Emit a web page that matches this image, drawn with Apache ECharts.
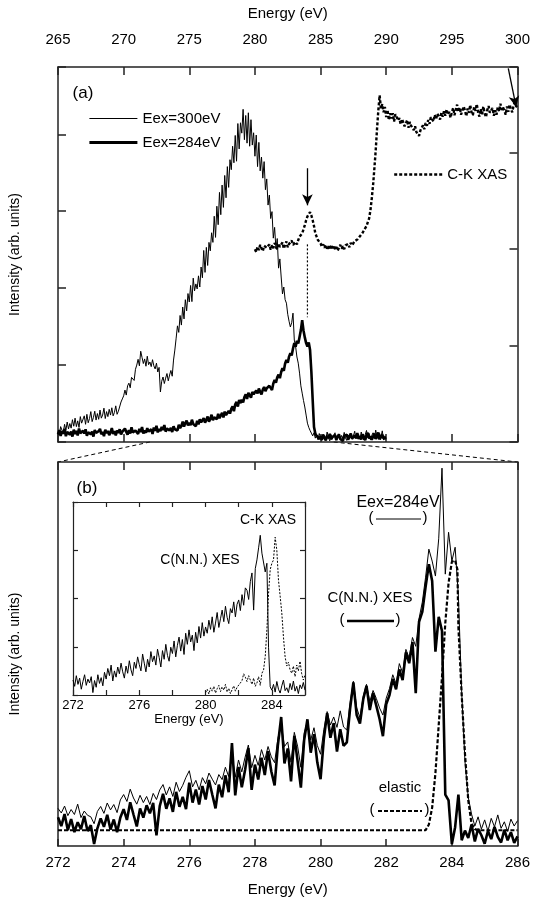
<!DOCTYPE html>
<html><head><meta charset="utf-8">
<script src="https://cdn.jsdelivr.net/npm/echarts@6/dist/echarts.min.js"></script>
<style>html,body{margin:0;padding:0;background:#fff}#c{width:533px;height:898px}</style>
</head><body><div id="c"></div>
<script>
const FONT = 'Liberation Sans, Arial, Helvetica, sans-serif';

// ---------- Panel (a): energy grid 265.0 .. 290.0, step 0.1 ----------
const aStart = 265, aStep = 0.1;
const xes300 = [
2.6,1.8,4.0,3.1,2.4,4.6,3.0,5.2,3.4,4.8,
3.6,5.8,4.1,6.2,4.0,5.5,3.8,6.6,4.9,5.1,
6.8,4.6,7.2,5.0,6.1,7.9,5.3,6.4,8.0,5.7,
7.4,5.9,8.3,6.2,7.0,8.8,6.1,7.9,6.6,8.5,
7.0,8.9,6.8,7.7,9.4,7.2,8.0,7.5,10.4,11.2,
12.0,13.5,12.2,14.6,15.3,14.1,16.8,17.2,16.0,18.9,
20.0,21.5,19.8,23.6,22.0,20.4,21.6,19.7,22.3,20.1,
20.8,19.6,21.4,19.8,19.0,20.5,18.2,19.4,13.0,15.8,
16.9,15.2,16.6,17.8,15.9,17.4,18.6,17.1,21.3,23.9,
27.0,30.2,28.5,32.9,30.4,35.1,32.0,37.0,34.1,38.6,
36.4,40.7,36.5,42.6,39.3,41.1,39.8,43.2,40.3,45.5,
42.7,49.8,44.1,50.6,45.9,51.9,49.7,54.4,51.9,58.7,
53.2,61.3,56.5,64.9,59.1,66.8,61.0,69.3,63.5,71.6,
66.2,73.4,70.8,76.9,72.6,79.7,73.0,82.8,76.2,83.0,
80.3,86.5,78.6,84.9,77.7,85.6,76.9,83.8,77.2,80.4,
74.3,79.8,71.6,77.9,70.5,74.1,68.6,72.9,65.6,68.4,
61.6,64.2,58.1,59.9,53.0,55.8,50.3,52.9,45.2,47.6,
42.9,38.5,40.3,37.0,36.1,33.2,31.4,29.9,31.0,33.5,
26.5,24.8,22.1,20.5,17.9,14.6,12.7,10.8,9.1,7.0,
4.9,3.8,3.0,2.3,1.6,2.4,1.0,1.8,0.6,2.2,
1.2,0.4,2.0,1.5,0.7,2.6,1.1,0.3,1.9,0.8,
1.6,2.4,0.5,1.3,2.1,0.6,1.7,0.9,2.5,1.0,
0.4,1.8,1.2,2.3,0.7,1.5,2.8,0.9,1.4,2.0,
0.8,2.6,1.3,0.5,1.9,3.0,1.1,2.2,0.6,1.7,
2.4,0.9,3.1,1.4,0.7,2.2,1.3,2.9,0.5,1.6,
0.9];
const xes284 = [
2.0,3.1,1.6,2.8,2.2,3.4,1.5,2.6,3.0,1.9,
2.7,1.4,3.2,2.1,2.9,1.7,3.5,2.3,1.8,2.9,
2.2,3.3,1.6,2.5,3.0,2.0,2.7,1.4,3.1,2.4,
1.9,2.8,3.4,2.0,2.6,1.5,3.2,2.3,2.9,1.8,
2.5,3.6,2.1,2.8,1.7,3.0,2.4,3.3,2.0,2.7,
2.3,3.5,2.6,1.9,3.1,2.2,3.8,2.5,2.0,3.0,
2.8,2.1,3.4,2.6,3.9,2.2,3.0,2.4,3.6,2.7,
2.6,3.3,2.1,3.8,2.9,4.2,2.5,3.4,2.8,3.9,
3.1,4.4,2.7,3.5,4.0,3.0,3.7,2.6,4.1,3.3,
3.8,3.0,4.5,3.6,4.2,5.3,4.0,4.9,5.6,4.3,
5.0,4.4,5.8,4.7,5.2,4.1,5.5,4.6,5.9,5.1,
5.4,6.2,5.0,5.8,6.6,5.3,6.0,7.1,5.7,6.4,
6.5,5.9,7.3,6.2,6.9,7.6,6.4,7.9,7.0,7.5,
8.1,7.4,8.6,9.3,8.0,9.8,10.4,9.2,10.9,10.1,
11.0,10.3,11.7,12.4,11.2,12.8,12.2,11.5,13.0,12.4,
12.1,13.4,12.6,13.9,13.0,12.4,13.6,14.3,13.2,14.0,
13.8,14.6,14.3,13.5,15.2,16.1,15.4,16.8,17.5,16.6,
18.2,19.2,18.5,20.4,21.3,20.6,22.2,23.1,22.5,24.3,
25.7,24.8,26.3,25.6,27.3,29.1,31.7,29.0,27.2,25.7,
24.8,25.9,23.9,18.2,10.9,3.9,2.2,1.6,1.3,0.8,
1.5,0.6,1.9,1.1,0.4,1.7,1.0,2.1,0.7,1.3,
0.9,1.8,0.5,1.4,2.0,0.8,1.2,0.3,1.6,1.1,
1.9,0.6,1.3,2.2,0.9,0.4,1.7,1.0,2.3,0.8,
1.4,0.7,2.0,1.2,0.5,1.8,2.4,0.9,1.5,0.6,
1.1,2.2,0.8,1.6,2.5,0.7,1.3,1.9,0.9,1.4,
1.0];
// C-K XAS, 280.0 .. 300.0 step 0.1 (right axis)
const xasStart = 280, xasStep = 0.1;
const xasA = [
40.0,39.4,40.5,39.8,40.9,40.2,39.6,40.7,41.1,40.3,
40.4,41.0,39.9,40.8,40.2,41.3,40.6,40.0,41.2,40.5,
40.6,41.4,40.1,40.9,41.6,40.4,41.1,40.7,41.8,40.9,
40.8,41.5,41.0,41.9,42.6,42.2,43.3,44.1,45.0,46.0,
46.8,47.2,47.7,47.0,46.0,44.8,43.3,42.6,41.9,41.5,
41.2,40.5,41.0,40.3,40.9,40.1,40.6,39.9,40.7,40.2,
40.8,40.0,40.5,39.7,40.3,40.9,40.1,40.6,40.0,40.8,
40.6,41.1,40.4,41.3,40.8,41.2,41.7,41.4,42.0,42.3,
42.7,43.1,43.4,43.9,44.3,44.8,45.6,46.4,48.1,50.5,
53.3,56.8,60.5,64.9,68.8,71.9,69.2,70.1,68.4,69.5,
67.4,68.9,66.8,68.2,67.1,68.2,66.5,68.0,67.4,66.7,
67.2,65.9,67.0,66.3,65.5,66.1,66.8,65.2,66.4,65.6,
65.3,64.7,65.5,64.3,64.0,63.5,64.6,65.2,65.7,64.9,
66.2,65.6,66.8,66.0,67.4,67.2,66.5,67.9,67.0,68.1,
67.8,66.9,68.3,67.5,68.6,67.7,69.0,67.9,68.5,67.3,
68.4,69.3,67.8,68.9,70.0,68.5,69.4,67.9,68.8,69.6,
68.8,67.6,69.2,68.3,69.9,68.4,67.8,69.5,68.7,70.1,
68.4,67.5,69.1,68.0,69.6,68.2,67.4,68.9,69.7,68.3,
68.2,69.3,67.7,68.8,67.9,69.5,68.6,70.2,68.9,69.4,
68.8,67.9,69.6,68.5,70.0,69.1,68.4,69.8,70.5,69.7,
69.4];
// annotations of panel (a): arrows [x1, y1, x2, y2] on XAS axis; guide line at 284 eV
const arrowsA = [[284, 56.8, 284, 49.1], [299.3, 77.5, 299.9, 69.5]];
const guideA = [[284, 41.0], [284, 25.9]];

// ---------- Panel (b): 272.0 .. 286.0, step 0.1 ----------
const bStart = 272, bStep = 0.1;
const bThin = [
9.8,8.6,10.4,7.9,9.5,8.2,10.9,7.4,9.1,8.0,
7.6,5.8,9.0,10.3,8.5,11.2,9.4,10.8,8.7,12.0,
13.4,11.6,14.8,12.5,10.9,13.2,11.3,12.9,10.8,13.7,
12.1,14.6,16.0,13.3,15.4,12.9,16.6,14.2,15.8,17.9,
19.6,15.4,17.1,14.6,17.8,16.2,19.0,17.4,15.9,18.6,
17.3,20.5,18.1,24.2,17.9,22.4,19.3,23.1,26.3,20.4,
23.6,21.0,25.1,22.4,25.9,23.2,21.7,28.0,31.8,25.9,
27.1,21.8,29.6,26.0,20.5,29.4,32.5,27.6,30.8,26.2,
23.9,30.3,35.0,31.5,33.6,30.9,35.2,31.0,30.2,37.3,
42.9,36.0,33.4,39.0,42.1,37.6,40.5,38.4,35.9,34.1,
38.5,41.0,44.6,42.3,47.5,45.1,51.2,49.0,54.3,52.0,
59.2,63.5,70.0,77.3,74.2,70.3,80.0,98.4,70.8,81.7,
74.2,77.8,65.0,40.0,22.0,12.7,8.3,5.2,7.6,4.4,
6.8,3.9,7.2,5.0,8.1,4.6,6.3,3.8,7.0,5.2,
6.6];
const bThick = [
7.5,5.2,8.3,4.1,7.0,3.6,6.2,4.4,7.8,3.9,
5.4,0.5,4.6,7.2,5.0,8.1,4.3,6.9,3.6,7.4,
9.6,6.8,11.4,8.2,5.1,9.8,7.4,10.6,8.5,11.2,
2.8,10.4,13.6,9.7,12.4,8.9,14.1,10.2,12.8,9.6,
16.5,11.3,14.7,10.8,15.6,12.1,17.2,13.4,9.8,16.0,
12.7,18.4,14.0,26.8,13.2,20.6,15.3,19.8,25.5,14.6,
21.2,17.3,23.0,18.5,24.7,19.4,15.8,26.3,33.6,21.5,
25.4,16.8,28.7,22.1,15.2,27.6,33.0,24.3,29.1,21.8,
17.4,27.9,34.6,28.2,32.0,24.6,30.4,26.1,27.0,35.8,
42.6,34.1,31.9,38.2,41.7,35.4,39.8,36.5,33.0,28.6,
36.9,39.3,43.5,40.8,46.0,43.2,50.4,47.6,53.1,39.8,
58.4,61.0,67.5,73.4,69.0,50.6,59.7,56.0,13.4,11.9,
0.5,4.9,13.4,1.5,4.0,2.1,5.6,1.2,4.5,2.8,
0.6,3.9,1.8,5.0,2.4,0.9,4.2,1.5,3.6,0.8,
2.5];
const elastic = [[272,4.1],[283.2,4.1],[283.3,5.6],[283.4,10.0],[283.5,19.0],[283.6,31.5],
[283.7,44.0],[283.8,58.0],[283.9,68.5],[284.0,74.0],[284.1,74.4],[284.17,72.0],[284.2,57.0],
[284.3,39.3],[284.4,24.0],[284.5,11.9],[284.6,5.8],[284.7,4.4],[284.8,4.1],[286,4.1]];

// ---------- Inset ----------
const insStart = 272, insStep = 0.1;
const insXES = [
0.31,0.18,0.40,0.22,0.35,0.12,0.28,0.42,0.20,0.33,
0.25,0.38,0.05,0.30,0.16,0.42,0.24,0.36,0.19,0.47,
0.33,0.55,0.40,0.62,0.29,0.50,0.37,0.58,0.44,0.66,
0.48,0.35,0.60,0.45,0.71,0.52,0.40,0.68,0.55,0.79,
0.63,0.50,0.85,0.66,0.48,0.74,0.58,0.90,0.69,0.81,
0.62,0.95,0.78,0.58,0.92,0.74,1.05,0.82,0.70,0.99,
0.86,1.12,0.79,1.03,1.20,0.91,1.15,0.84,1.28,1.05,
1.35,1.10,1.24,0.92,1.30,1.08,1.42,1.18,1.50,1.22,
1.41,1.28,1.55,1.36,1.62,1.30,1.49,1.71,1.40,1.58,
1.76,1.52,1.84,1.61,1.48,1.79,1.70,1.93,1.62,1.88,
1.97,1.75,2.08,1.86,2.22,2.17,1.98,2.35,2.53,1.76,
2.62,2.80,3.05,3.31,2.94,2.94,2.55,2.73,0.99,0.17,
0.10,0.22,0.06,0.28,0.12,0.04,0.19,0.31,0.09,0.15,
0.05,0.24,0.11,0.29,0.08,0.18,0.03,0.21,0.13,0.26,
0.10];
const insXasStart = 280;
const insXAS = [
0.05,0.12,0.02,0.15,0.08,0.18,0.04,0.13,0.20,0.07,
0.17,0.10,0.22,0.06,0.14,0.03,0.11,0.19,0.08,0.16,
0.12,0.25,0.30,0.44,0.37,0.28,0.40,0.31,0.22,0.35,
0.18,0.25,0.38,0.20,0.45,0.52,0.80,1.35,2.10,2.60,
2.73,2.80,3.27,3.00,2.38,2.05,1.70,1.20,0.79,0.60,
0.68,0.52,0.45,0.60,0.38,0.62,0.50,0.70,0.44,0.31,
0.42];

const pairs = (start, step, arr) => arr.map((v, i) => [Math.round((start + i * step) * 100) / 100, v]);

const AX = {color: '#222', width: 1.5};
function xAx(grid, pos, min, max, interval, o) {
  return Object.assign({
    type: 'value', gridIndex: grid, position: pos, min: min, max: max, interval: interval,
    axisLine: {show: true, onZero: false, lineStyle: AX},
    axisTick: {show: true, inside: true, length: 8, lineStyle: AX},
    axisLabel: {show: false}, splitLine: {show: false}
  }, o || {});
}
function yAx(grid, pos, min, max, interval, o) {
  return Object.assign({
    type: 'value', gridIndex: grid, position: pos, min: min, max: max, interval: interval,
    axisLine: {show: true, onZero: false, lineStyle: AX},
    axisTick: {show: true, inside: true, length: 8, lineStyle: AX},
    axisLabel: {show: false}, splitLine: {show: false}
  }, o || {});
}
const lbl = (size, margin) => ({show: true, color: '#000', fontSize: size, fontFamily: FONT, margin: margin});

const chart = echarts.init(document.getElementById('c'), null, {renderer: 'canvas'});
const legendCommon = {orient: 'vertical', itemWidth: 48, itemHeight: 14, itemGap: 9, selectedMode: false,
  itemStyle: {opacity: 0, borderWidth: 0}, textStyle: {fontSize: 15, color: '#000', fontFamily: FONT}};
const option = {
  animation: false,
  backgroundColor: '#fff',
  textStyle: {fontFamily: FONT, color: '#000'},
  grid: [
    {left: 57.5, right: 15, top: 67, bottom: 456},
    {left: 57.5, right: 15, top: 462, bottom: 50},
    {left: 73, top: 502, width: 232, height: 193}
  ],
  xAxis: [
    xAx(0, 'top', 265, 300, 5, {axisLabel: lbl(15, 20), name: 'Energy (eV)', nameLocation: 'middle', nameGap: 46,
      nameTextStyle: {fontSize: 15, color: '#000', fontFamily: FONT}}),
    xAx(0, 'bottom', 265, 300, 5),
    xAx(1, 'bottom', 272, 286, 2, {axisTick: {show: true, inside: true, length: 7, lineStyle: AX},
      axisLabel: lbl(15, 9), name: 'Energy (eV)', nameLocation: 'middle', nameGap: 36,
      nameTextStyle: {fontSize: 15, color: '#000', fontFamily: FONT}}),
    xAx(1, 'top', 272, 286, 2),
    xAx(2, 'bottom', 272, 286, 2, {axisLine: {show: true, onZero: false, lineStyle: {color: '#222', width: 1.2}},
      axisTick: {show: true, inside: true, length: 5, lineStyle: {color: '#222', width: 1.2}},
      axisLabel: Object.assign(lbl(13, 4), {formatter: v => ((v - 272) % 4 === 0 ? String(v) : '')}),
      name: 'Energy (eV)', nameLocation: 'middle', nameGap: 15,
      nameTextStyle: {fontSize: 13, color: '#000', fontFamily: FONT}}),
    xAx(2, 'top', 272, 286, 2, {axisLine: {show: true, onZero: false, lineStyle: {color: '#222', width: 1.2}},
      axisTick: {show: true, inside: true, length: 5, lineStyle: {color: '#222', width: 1.2}}})
  ],
  yAxis: [
    yAx(0, 'left', 0, 97.5, 20, {name: 'Intensity (arb. units)', nameLocation: 'middle', nameGap: 36,
      nameTextStyle: {fontSize: 14, color: '#000', fontFamily: FONT}}),
    yAx(0, 'right', 0, 77.8, 20),
    yAx(1, 'left', 0, 100, 20, {axisTick: {show: false}, name: 'Intensity (arb. units)', nameLocation: 'middle', nameGap: 36,
      nameTextStyle: {fontSize: 14, color: '#000', fontFamily: FONT}}),
    yAx(1, 'right', 0, 100, 20, {axisTick: {show: false}}),
    yAx(2, 'left', 0, 4, 1, {axisLine: {show: true, onZero: false, lineStyle: {color: '#222', width: 1.2}},
      axisTick: {show: true, inside: true, length: 5, lineStyle: {color: '#222', width: 1.2}}}),
    yAx(2, 'right', 0, 4, 1, {axisLine: {show: true, onZero: false, lineStyle: {color: '#222', width: 1.2}},
      axisTick: {show: true, inside: true, length: 5, lineStyle: {color: '#222', width: 1.2}}})
  ],
  legend: [
    Object.assign({left: 83, top: 106, data: [
      {name: 'Eex=300eV', lineStyle: {width: 1, color: '#000'}},
      {name: 'Eex=284eV', lineStyle: {width: 2.8, color: '#000'}}]}, legendCommon),
    Object.assign({left: 388, top: 162, data: [
      {name: 'C-K XAS', lineStyle: {width: 2.4, color: '#000', type: [3, 2]}}]}, legendCommon)
  ],
  series: [
    {name: 'Eex=300eV', type: 'line', xAxisIndex: 0, yAxisIndex: 0, symbol: 'none', data: pairs(aStart, aStep, xes300),
      lineStyle: {color: '#000', width: 1}, itemStyle: {color: '#000'}},
    {name: 'Eex=284eV', type: 'line', xAxisIndex: 0, yAxisIndex: 0, symbol: 'none', data: pairs(aStart, aStep, xes284),
      lineStyle: {color: '#000', width: 2.6}, itemStyle: {color: '#000'}},
    {name: 'C-K XAS', type: 'line', xAxisIndex: 0, yAxisIndex: 1, symbol: 'none', data: pairs(xasStart, xasStep, xasA),
      lineStyle: {color: '#000', width: 2.4, type: [3, 2]}, itemStyle: {color: '#000'},
      markLine: {silent: true, symbol: ['none', 'arrow'], symbolSize: [8, 11], label: {show: false},
        lineStyle: {color: '#000', width: 1.3, type: 'solid'},
        data: arrowsA.map(a => [{coord: [a[0], a[1]]}, {coord: [a[2], a[3]]}])}},
    {name: 'guide', type: 'line', xAxisIndex: 0, yAxisIndex: 1, symbol: 'none', data: guideA,
      lineStyle: {color: '#000', width: 1.2, type: [2, 2]}},
    {name: 'b-thin', type: 'line', xAxisIndex: 2, yAxisIndex: 2, symbol: 'none', data: pairs(bStart, bStep, bThin),
      lineStyle: {color: '#000', width: 1}},
    {name: 'b-thick', type: 'line', xAxisIndex: 2, yAxisIndex: 2, symbol: 'none', data: pairs(bStart, bStep, bThick),
      lineStyle: {color: '#000', width: 2.6}},
    {name: 'elastic', type: 'line', xAxisIndex: 2, yAxisIndex: 2, symbol: 'none', data: elastic,
      lineStyle: {color: '#000', width: 2.2, type: [4, 2]}},
    {name: 'inset-XES', type: 'line', xAxisIndex: 4, yAxisIndex: 4, symbol: 'none', data: pairs(insStart, insStep, insXES),
      lineStyle: {color: '#000', width: 1}},
    {name: 'inset-XAS', type: 'line', xAxisIndex: 4, yAxisIndex: 4, symbol: 'none', data: pairs(insXasStart, insStep, insXAS),
      lineStyle: {color: '#000', width: 1, type: [2, 1.5]}}
  ]
};
chart.setOption(option);

// connector lines and annotations
const a1 = chart.convertToPixel({gridIndex: 0}, [272, 0]);
const a2 = chart.convertToPixel({gridIndex: 0}, [286, 0]);
const b1 = chart.convertToPixel({gridIndex: 1}, [272, 100]);
const b2 = chart.convertToPixel({gridIndex: 1}, [286, 100]);
const T = (text, x, y, size) => ({type: 'text', x: x, y: y, style: {text: text, fill: '#000', fontSize: size, fontFamily: FONT, align: 'center', verticalAlign: 'middle'}});
const L = (x1, y1, x2, y2, w, dash) => ({type: 'line', shape: {x1: x1, y1: y1, x2: x2, y2: y2}, style: {stroke: '#000', lineWidth: w, lineDash: dash || null}});
chart.setOption({
  graphic: [
    L(a1[0], a1[1], b1[0], b1[1], 1, [4, 3]),
    L(a2[0], a2[1], b2[0], b2[1], 1, [4, 3]),
    T('(a)', 83, 93, 17),
    T('(b)', 87, 488, 17),
    T('Eex=284eV', 398, 503, 16),
    T('(', 371, 518, 15), L(376, 519, 421, 519, 1), T(')', 425, 518, 15),
    T('C(N.N.) XES', 370, 598, 15),
    T('(', 342, 620, 15), L(347, 621, 394, 621, 2.6), T(')', 398, 620, 15),
    T('elastic', 400, 788, 15),
    T('(', 372, 810, 15), L(378, 811, 422, 811, 2.2, [4, 2]), T(')', 427, 810, 15),
    T('C-K XAS', 268, 520, 14),
    T('C(N.N.) XES', 200, 560, 14)
  ]
});
</script></body></html>
